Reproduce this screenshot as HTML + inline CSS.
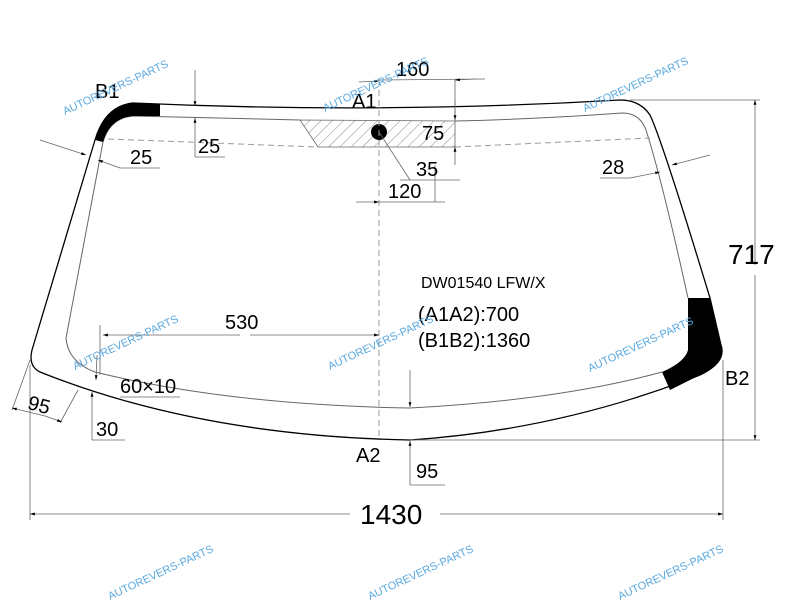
<!DOCTYPE html>
<html><head><meta charset="utf-8"><style>
html,body{margin:0;padding:0;background:#fff;}
svg{display:block;font-family:"Liberation Sans",sans-serif;}
.wm{fill:#5aa9e0;font-size:11px;}
</style></head><body>
<svg width="800" height="600" viewBox="0 0 800 600" xmlns="http://www.w3.org/2000/svg">
<defs>
<pattern id="h" width="8" height="8" patternUnits="userSpaceOnUse" patternTransform="rotate(45)">
<line x1="0" y1="0" x2="0" y2="8" stroke="#555" stroke-width="0.7"/></pattern>
<marker id="a" viewBox="0 0 10 10" refX="10" refY="5" markerWidth="8" markerHeight="6" orient="auto-start-reverse"><path d="M0,2 L10,5 L0,8z" fill="#000"/></marker>
</defs>
<!-- outer glass -->
<path d="M133,103 Q380,114 620,100 Q640,100 650,115 Q662,140 710,298 L721,345 Q727,362 700,375 Q560,430 410,440 Q200,436 40,372 Q28,366 32,350 L95,140 Q105,106 133,103 Z" fill="none" stroke="#000" stroke-width="1.3"/>
<!-- inner line -->
<path d="M133,116 Q220,118 300,120 M455,121 Q540,119 622,113 Q640,113 646,130 Q662,180 688,298 M662,372 Q560,400 410,408 Q230,405 95,372 Q68,362 66,338 L103,142 Q110,118 133,116" fill="none" stroke="#666" stroke-width="1"/>
<!-- black B1 -->
<path d="M95,140 Q105,106 133,103 L160,104 L160,116 L133,116 Q110,118 103,142 Z" fill="#000"/>
<!-- black B2 -->
<path d="M688,298 L710,298 L721,345 Q727,362 700,375 L670,390 L662,372 Q685,362 688,350 Z" fill="#000"/>
<!-- hatch -->
<path d="M300,120 L455,121 L455,147 L318,147 Z" fill="url(#h)" stroke="#666" stroke-width="0.8"/>
<circle cx="379" cy="132" r="8" fill="#000"/>
<!-- dashed -->
<line x1="108" y1="139" x2="318" y2="147" stroke="#999" stroke-dasharray="6,4"/>
<line x1="455" y1="147" x2="650" y2="138" stroke="#999" stroke-dasharray="6,4"/>
<line x1="379" y1="80" x2="379" y2="440" stroke="#999" stroke-dasharray="6,4"/>
<g stroke="#666" stroke-width="0.8" fill="none">
<line x1="379" y1="80" x2="485" y2="79"/><line x1="455" y1="80" x2="455" y2="121"/>
<line x1="359" y1="82" x2="379" y2="81" marker-end="url(#a)"/>
<line x1="475" y1="79" x2="455" y2="80" marker-end="url(#a)"/>
<line x1="455" y1="100" x2="455" y2="120" marker-end="url(#a)"/>
<line x1="455" y1="165" x2="455" y2="147" marker-end="url(#a)"/>
<line x1="379" y1="132" x2="410" y2="180"/><line x1="400" y1="180" x2="460" y2="180"/>
<line x1="356" y1="202" x2="379" y2="202" marker-end="url(#a)"/><line x1="379" y1="202" x2="445" y2="202"/>
<line x1="435" y1="165" x2="435" y2="202"/>
<line x1="195" y1="70" x2="195" y2="106" marker-end="url(#a)"/>
<line x1="195" y1="157" x2="195" y2="118" marker-end="url(#a)"/>
<line x1="195" y1="157" x2="225" y2="157"/>
<line x1="40" y1="140" x2="86" y2="155" marker-end="url(#a)"/>
<line x1="120" y1="168" x2="98" y2="160" marker-end="url(#a)"/><line x1="120" y1="168" x2="160" y2="168"/>
<line x1="710" y1="155" x2="672" y2="165" marker-end="url(#a)"/>
<line x1="630" y1="178" x2="660" y2="172" marker-end="url(#a)"/><line x1="600" y1="178" x2="630" y2="178"/>
<line x1="630" y1="100" x2="760" y2="100"/><line x1="410" y1="440" x2="760" y2="440"/>
<line x1="755" y1="265" x2="755" y2="100" marker-end="url(#a)"/>
<line x1="755" y1="275" x2="755" y2="440" marker-end="url(#a)"/>
<line x1="100" y1="325" x2="100" y2="375"/>
<line x1="240" y1="335" x2="103" y2="335" marker-end="url(#a)"/>
<line x1="250" y1="335" x2="379" y2="335" marker-end="url(#a)"/>
<line x1="97" y1="355" x2="96" y2="380" marker-end="url(#a)"/>
<line x1="120" y1="397" x2="180" y2="397"/>
<line x1="92" y1="440" x2="92" y2="392" marker-end="url(#a)"/>
<line x1="92" y1="440" x2="125" y2="440"/>
<line x1="30" y1="360" x2="12" y2="410"/><line x1="78" y1="390" x2="60" y2="423"/>
<line x1="45" y1="416" x2="12" y2="408" marker-end="url(#a)"/>
<line x1="45" y1="416" x2="62" y2="422" marker-end="url(#a)"/>
<line x1="410" y1="370" x2="410" y2="407" marker-end="url(#a)"/>
<line x1="410" y1="485" x2="410" y2="441" marker-end="url(#a)"/>
<line x1="410" y1="485" x2="445" y2="485"/>
<line x1="30" y1="365" x2="30" y2="520"/><line x1="723" y1="360" x2="723" y2="520"/>
<line x1="350" y1="514" x2="30" y2="514" marker-end="url(#a)"/>
<line x1="440" y1="514" x2="723" y2="514" marker-end="url(#a)"/>
</g>
<g font-size="20" fill="#000">
<text x="95" y="98">B1</text><text x="352" y="108">A1</text>
<text x="396" y="76">160</text><text x="422" y="140">75</text>
<text x="416" y="176">35</text><text x="388" y="198">120</text>
<text x="198" y="153">25</text><text x="130" y="164">25</text>
<text x="602" y="174">28</text><text x="728" y="264" font-size="28">717</text>
<text x="225" y="329">530</text><text x="120" y="393">60×10</text>
<text x="96" y="436">30</text><text x="28" y="412" transform="rotate(15 40 405)">95</text>
<text x="356" y="462">A2</text><text x="416" y="478">95</text>
<text x="725" y="385">B2</text><text x="360" y="524" font-size="28">1430</text>
<text x="418" y="321">(A1A2):700</text><text x="418" y="347">(B1B2):1360</text>
<text x="421" y="288" font-size="16">DW01540 LFW/X</text>
</g>
<g class="wm">
<text x="65" y="115" transform="rotate(-25 65 115)">AUTOREVERS-PARTS</text>
<text x="325" y="112" transform="rotate(-25 325 112)">AUTOREVERS-PARTS</text>
<text x="585" y="112" transform="rotate(-25 585 112)">AUTOREVERS-PARTS</text>
<text x="75" y="370" transform="rotate(-25 75 370)">AUTOREVERS-PARTS</text>
<text x="330" y="370" transform="rotate(-25 330 370)">AUTOREVERS-PARTS</text>
<text x="590" y="372" transform="rotate(-25 590 372)">AUTOREVERS-PARTS</text>
<text x="110" y="600" transform="rotate(-25 110 600)">AUTOREVERS-PARTS</text>
<text x="370" y="600" transform="rotate(-25 370 600)">AUTOREVERS-PARTS</text>
<text x="620" y="600" transform="rotate(-25 620 600)">AUTOREVERS-PARTS</text>
</g>
</svg>
</body></html>
